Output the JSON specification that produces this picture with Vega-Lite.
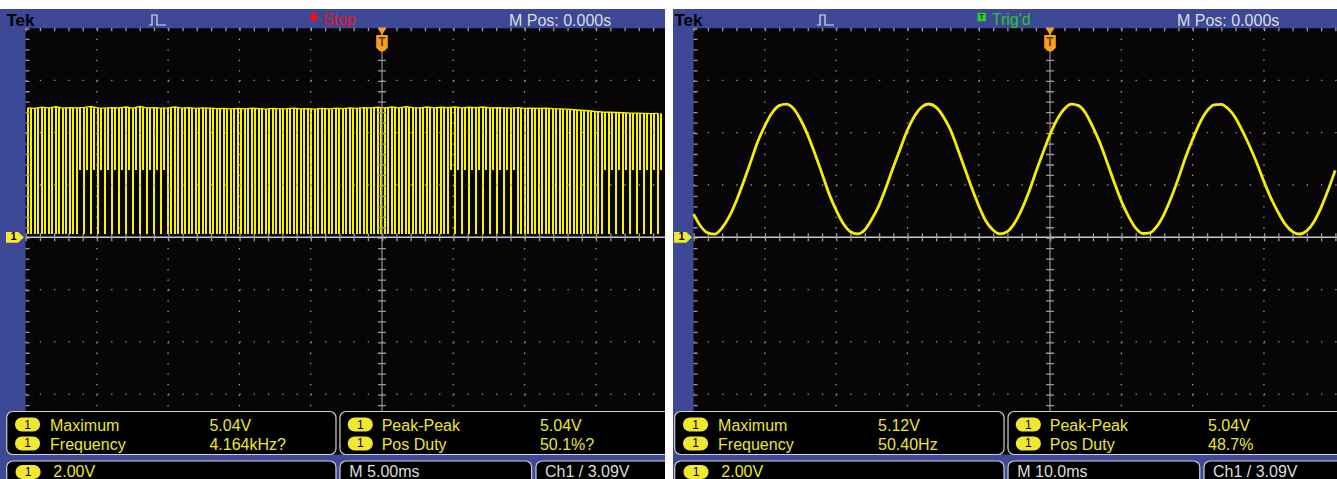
{
"$schema": "https://vega.github.io/schema/vega-lite/v6.json",
"background": "#ffffff",
"padding": {"left": 0, "top": 9, "right": 0, "bottom": 0},
"spacing": 8,
"bounds": "flush",
"config": {"view": {"stroke": null}, "font": "Liberation Sans"},
"datasets": {
"pulsesA": [
{"t":-24.826,"v":4.95},{"t":-24.335,"v":4.93},{"t":-23.844,"v":4.97},{"t":-23.353,"v":4.95},{"t":-22.862,"v":4.99},{"t":-22.371,"v":4.94},{"t":-21.88,"v":4.96},{"t":-21.389,"v":4.95},{"t":-20.898,"v":4.97},{"t":-20.407,"v":5.0},
{"t":-19.917,"v":4.95},{"t":-19.426,"v":4.94},{"t":-18.935,"v":4.96},{"t":-18.444,"v":4.95},{"t":-17.953,"v":4.98},{"t":-17.462,"v":4.94},{"t":-16.971,"v":5.0},{"t":-16.48,"v":4.95},{"t":-15.989,"v":4.96},{"t":-15.498,"v":4.94},
{"t":-15.007,"v":4.95},{"t":-14.516,"v":4.98},{"t":-14.025,"v":4.94},{"t":-13.534,"v":4.96},{"t":-13.043,"v":4.93},{"t":-12.552,"v":4.95},{"t":-12.061,"v":4.94},{"t":-11.57,"v":4.92},{"t":-11.079,"v":4.93},{"t":-10.588,"v":4.91},
{"t":-10.098,"v":4.93},{"t":-9.607,"v":4.91},{"t":-9.116,"v":4.94},{"t":-8.625,"v":4.92},{"t":-8.134,"v":4.9},{"t":-7.643,"v":4.93},{"t":-7.152,"v":4.91},{"t":-6.661,"v":4.92},{"t":-6.17,"v":4.94},{"t":-5.679,"v":4.91},
{"t":-5.188,"v":4.92},{"t":-4.697,"v":4.9},{"t":-4.206,"v":4.93},{"t":-3.715,"v":4.91},{"t":-3.224,"v":4.94},{"t":-2.733,"v":4.92},{"t":-2.242,"v":4.95},{"t":-1.751,"v":4.93},{"t":-1.26,"v":4.96},{"t":-0.769,"v":4.95},
{"t":-0.279,"v":4.97},{"t":0.212,"v":4.95},{"t":0.703,"v":4.98},{"t":1.194,"v":4.95},{"t":1.685,"v":4.99},{"t":2.176,"v":4.96},{"t":2.667,"v":4.95},{"t":3.158,"v":4.98},{"t":3.649,"v":4.95},{"t":4.14,"v":4.97},
{"t":4.631,"v":4.96},{"t":5.122,"v":4.98},{"t":5.613,"v":4.95},{"t":6.104,"v":4.97},{"t":6.595,"v":4.96},{"t":7.086,"v":4.98},{"t":7.577,"v":4.95},{"t":8.068,"v":4.96},{"t":8.559,"v":4.95},{"t":9.05,"v":4.94},
{"t":9.541,"v":4.96},{"t":10.032,"v":4.93},{"t":10.523,"v":4.94},{"t":11.014,"v":4.93},{"t":11.505,"v":4.94},{"t":11.996,"v":4.92},{"t":12.487,"v":4.91},{"t":12.978,"v":4.9},{"t":13.469,"v":4.88},{"t":13.96,"v":4.86},
{"t":14.45,"v":4.84},{"t":14.941,"v":4.81},{"t":15.432,"v":4.79},{"t":15.923,"v":4.78},{"t":16.414,"v":4.77},{"t":16.905,"v":4.76},{"t":17.396,"v":4.75},{"t":17.887,"v":4.75},{"t":18.378,"v":4.74},{"t":18.869,"v":4.73},{"t":19.36,"v":4.74}
],
"pulsesB": [
{"t":-24.616,"v":4.94},{"t":-24.125,"v":4.96},{"t":-23.634,"v":4.94},{"t":-23.143,"v":4.97},{"t":-22.652,"v":4.95},{"t":-22.161,"v":4.96},{"t":-21.67,"v":4.94},
{"t":-14.797,"v":4.94},{"t":-14.306,"v":4.96},{"t":-13.815,"v":4.95},{"t":-13.324,"v":4.94},{"t":-12.833,"v":4.95},{"t":-12.342,"v":4.93},{"t":-11.851,"v":4.95},{"t":-11.36,"v":4.93},{"t":-10.869,"v":4.92},{"t":-10.378,"v":4.94},
{"t":-9.888,"v":4.92},{"t":-9.397,"v":4.93},{"t":-8.906,"v":4.91},{"t":-8.415,"v":4.93},{"t":-7.924,"v":4.92},{"t":-7.433,"v":4.9},{"t":-6.942,"v":4.93},{"t":-6.451,"v":4.91},{"t":-5.96,"v":4.92},{"t":-5.469,"v":4.93},
{"t":-4.978,"v":4.91},{"t":-4.487,"v":4.93},{"t":-3.996,"v":4.92},{"t":-3.505,"v":4.9},{"t":-3.014,"v":4.93},{"t":-2.523,"v":4.94},{"t":-2.032,"v":4.92},{"t":-1.541,"v":4.95},{"t":-1.05,"v":4.94},{"t":-0.559,"v":4.96},
{"t":-0.069,"v":4.95},{"t":0.422,"v":4.97},{"t":0.913,"v":4.96},{"t":1.404,"v":4.95},{"t":1.895,"v":4.97},{"t":2.386,"v":4.95},{"t":2.877,"v":4.97},{"t":3.368,"v":4.96},{"t":3.859,"v":4.96},{"t":4.35,"v":4.95},
{"t":9.751,"v":4.94},{"t":10.242,"v":4.95},{"t":10.733,"v":4.93},{"t":11.224,"v":4.94},{"t":11.715,"v":4.92},{"t":12.206,"v":4.93},{"t":12.697,"v":4.9},{"t":13.188,"v":4.89},{"t":13.679,"v":4.87},{"t":14.17,"v":4.85},
{"t":14.66,"v":4.82},{"t":15.151,"v":4.8}
],
"halfB": [
{"t":-21.179,"v":4.96},{"t":-20.688,"v":4.95},{"t":-20.197,"v":4.97},{"t":-19.707,"v":4.94},{"t":-19.216,"v":4.95},{"t":-18.725,"v":4.97},{"t":-18.234,"v":4.94},{"t":-17.743,"v":4.96},{"t":-17.252,"v":4.95},{"t":-16.761,"v":4.97},
{"t":-16.27,"v":4.94},{"t":-15.779,"v":4.95},{"t":-15.288,"v":4.96},
{"t":4.841,"v":4.97},{"t":5.332,"v":4.95},{"t":5.823,"v":4.96},{"t":6.314,"v":4.95},{"t":6.805,"v":4.97},{"t":7.296,"v":4.96},{"t":7.787,"v":4.95},{"t":8.278,"v":4.97},{"t":8.769,"v":4.94},{"t":9.26,"v":4.95},
{"t":15.642,"v":4.79},{"t":16.133,"v":4.77},{"t":16.624,"v":4.76},{"t":17.115,"v":4.76},{"t":17.606,"v":4.75},{"t":18.097,"v":4.74},{"t":18.588,"v":4.74},{"t":19.079,"v":4.73},{"t":19.57,"v":4.74}
],
"sineR": [
{"t":-50,"v":0.885},{"t":-49,"v":0.422},{"t":-48,"v":0.168},{"t":-47,"v":0.12},{"t":-46,"v":0.36},{"t":-45,"v":0.788},{"t":-44,"v":1.39},{"t":-43,"v":2.109},{"t":-42,"v":2.875},{"t":-41,"v":3.65},
{"t":-40,"v":4.263},{"t":-39,"v":4.751},{"t":-38,"v":5.035},{"t":-37,"v":5.089},{"t":-36,"v":4.93},{"t":-35,"v":4.505},{"t":-34,"v":3.923},{"t":-33,"v":3.217},{"t":-32,"v":2.452},{"t":-31,"v":1.67},
{"t":-30,"v":1.041},{"t":-29,"v":0.528},{"t":-28,"v":0.214},{"t":-27,"v":0.128},{"t":-26,"v":0.279},{"t":-25,"v":0.69},{"t":-24,"v":1.213},{"t":-23,"v":1.907},{"t":-22,"v":2.667},{"t":-21,"v":3.39},
{"t":-20,"v":4.101},{"t":-19,"v":4.638},{"t":-18,"v":4.981},{"t":-17,"v":5.098},{"t":-16,"v":4.978},{"t":-15,"v":4.633},{"t":-14,"v":4.13},{"t":-13,"v":3.416},{"t":-12,"v":2.66},{"t":-11,"v":1.9},
{"t":-10,"v":1.207},{"t":-9,"v":0.62},{"t":-8,"v":0.277},{"t":-7,"v":0.128},{"t":-6,"v":0.216},{"t":-5,"v":0.532},{"t":-4,"v":1.047},{"t":-3,"v":1.71},{"t":-2,"v":2.49},{"t":-1,"v":3.224},
{"t":0,"v":3.929},{"t":1,"v":4.51},{"t":2,"v":4.909},{"t":3,"v":5.09},{"t":4,"v":5.034},{"t":5,"v":4.747},{"t":6,"v":4.22},{"t":7,"v":3.61},{"t":8,"v":2.868},{"t":9,"v":2.102},
{"t":10,"v":1.384},{"t":11,"v":0.81},{"t":12,"v":0.357},{"t":13,"v":0.145},{"t":14,"v":0.169},{"t":15,"v":0.425},{"t":16,"v":0.89},{"t":17,"v":1.519},{"t":18,"v":2.252},{"t":19,"v":3.05},
{"t":20,"v":3.748},{"t":21,"v":4.369},{"t":22,"v":4.822},{"t":23,"v":5.064},{"t":24,"v":5.083},{"t":25,"v":4.915},{"t":26,"v":4.573},{"t":27,"v":4.06},{"t":28,"v":3.482},{"t":29,"v":2.84},
{"t":30,"v":2.133},{"t":31,"v":1.491},{"t":32,"v":0.95},{"t":33,"v":0.494},{"t":34,"v":0.22},{"t":35,"v":0.126},{"t":36,"v":0.245},{"t":37,"v":0.588},{"t":38,"v":1.126},{"t":39,"v":1.804},{"t":40,"v":2.56}
]
},
"hconcat": [
{
"width": 665, "height": 470,
"view": {"fill": "#3d4897", "stroke": null},
"encoding": {
"x": {"field": "t", "type": "quantitative", "scale": {"domain": [-26.79, 19.85], "nice": false, "zero": false}, "axis": null},
"y": {"field": "v", "type": "quantitative", "scale": {"domain": [-9.243, 8.73], "nice": false, "zero": false}, "axis": null}
},
"layer": [
{"data": {"values": [{"t": -25.0, "t2": 25, "v": 7.99, "v2": -8.306}]}, "mark": {"type": "rect", "fill": "#070505", "clip": true}, "encoding": {"x2": {"field": "t2"}, "y2": {"field": "v2"}}},
{"data": {"name": "pulsesA"}, "mark": {"type": "rule", "stroke": "#f5f100", "strokeWidth": 2, "clip": true}, "encoding": {"y2": {"datum": 0.126}}},
{"data": {"name": "pulsesB"}, "mark": {"type": "rule", "stroke": "#f5f100", "strokeWidth": 2, "clip": true}, "encoding": {"y2": {"datum": 0.126}}},
{"data": {"name": "halfB"}, "mark": {"type": "rule", "stroke": "#f5f100", "strokeWidth": 2, "clip": true}, "encoding": {"y2": {"datum": 2.574}}},
{"data": {"name": "pulsesA"}, "mark": {"type": "line", "stroke": "#f5f100", "strokeWidth": 1.4, "clip": true}, "encoding": {}},
{"data": {"values": [{"t":-20,"v":7.99,"v2":-8.306},{"t":-15,"v":7.99,"v2":-8.306},{"t":-10,"v":7.99,"v2":-8.306},{"t":-5,"v":7.99,"v2":-8.306},{"t":5,"v":7.99,"v2":-8.306},{"t":10,"v":7.99,"v2":-8.306},{"t":15,"v":7.99,"v2":-8.306}]}, "mark": {"type": "rule", "stroke": "#9c9c9c", "strokeWidth": 1.3, "strokeDash": [1.3, 9.16], "clip": true}, "encoding": {"y2": {"field": "v2"}}},
{"data": {"values": [{"t":-25,"t2":25,"v":6},{"t":-25,"t2":25,"v":4},{"t":-25,"t2":25,"v":2},{"t":-25,"t2":25,"v":-2},{"t":-25,"t2":25,"v":-4},{"t":-25,"t2":25,"v":-6},{"t":-25,"t2":25,"v":-8}]}, "mark": {"type": "rule", "stroke": "#9c9c9c", "strokeWidth": 1.3, "strokeDash": [1.3, 12.96], "clip": true}, "encoding": {"x2": {"field": "t2"}}},
{"data": {"values": [{"t":-24.86,"v":7.99,"v2":-8.306}]}, "mark": {"type": "rule", "stroke": "#9c9c9c", "strokeWidth": 4, "strokeDash": [1.3, 9.16], "clip": true}, "encoding": {"y2": {"field": "v2"}}},
{"data": {"values": [{"t":-25,"t2":25,"v":7.943}]}, "mark": {"type": "rule", "stroke": "#9c9c9c", "strokeWidth": 3.5, "strokeDash": [1.3, 12.96], "clip": true}, "encoding": {"x2": {"field": "t2"}}},
{"data": {"values": [{"t":0,"v":7.99,"v2":-8.306}]}, "mark": {"type": "rule", "stroke": "#8f8f8f", "strokeWidth": 1.2, "clip": true}, "encoding": {"y2": {"field": "v2"}}},
{"data": {"values": [{"t":0,"v":7.99,"v2":-8.306}]}, "mark": {"type": "rule", "stroke": "#9c9c9c", "strokeWidth": 8, "strokeDash": [1.3, 9.16], "clip": true}, "encoding": {"y2": {"field": "v2"}}},
{"data": {"values": [{"t":-25,"t2":25,"v":0}]}, "mark": {"type": "rule", "stroke": "#c8c8c8", "strokeWidth": 1.4, "clip": true}, "encoding": {"x2": {"field": "t2"}}},
{"data": {"values": [{"t":-25,"t2":25,"v":0}]}, "mark": {"type": "rule", "stroke": "#9c9c9c", "strokeWidth": 8, "strokeDash": [1.3, 12.96], "clip": true}, "encoding": {"x2": {"field": "t2"}}},
{"data": {"values": [{"t":0,"v":7.874}]}, "mark": {"type": "point", "shape": "triangle-down", "filled": true, "color": "#f7a01d", "size": 80, "opacity": 1, "clip": true}, "encoding": {}},
{"data": {"values": [{"t":0,"v":7.403}]}, "mark": {"type": "point", "shape": "M-0.67,-1L0.67,-1L0.67,0.5L0,1L-0.67,0.5Z", "filled": true, "color": "#f7a01d", "size": 299, "opacity": 1, "clip": true}, "encoding": {}},
{"data": {"values": [{"t":0,"v":7.45,"s":"T"}]}, "mark": {"type": "text", "fontSize": 12, "fontWeight": "bold", "color": "#6a3b00", "align": "center", "baseline": "middle", "clip": true}, "encoding": {"text": {"field": "s"}}},
{"data": {"values": [{"t":-25.74,"v":0}]}, "mark": {"type": "point", "shape": "M-1,-0.6L0.35,-0.6L1,0L0.35,0.6L-1,0.6Z", "filled": true, "color": "#f2ea30", "size": 324, "opacity": 1, "clip": true}, "encoding": {}},
{"data": {"values": [{"t":-25.84,"v":0,"s":"1"}]}, "mark": {"type": "text", "fontSize": 11, "fontWeight": "bold", "color": "#000000", "align": "center", "baseline": "middle", "clip": true}, "encoding": {"text": {"field": "s"}}},
{"data": {"values": [{"t":-26.32,"t2":-3.226,"v":-6.662,"v2":-8.306},{"t":-2.945,"t2":25,"v":-6.662,"v2":-8.306},{"t":-26.32,"t2":-3.226,"v":-8.555,"v2":-9.9},{"t":-2.945,"t2":10.498,"v":-8.555,"v2":-9.9},{"t":10.8,"t2":25,"v":-8.555,"v2":-9.9}]}, "mark": {"type": "rect", "fill": "#000000", "stroke": "#d0d0d0", "strokeWidth": 1.2, "cornerRadius": 6, "clip": true}, "encoding": {"x2": {"field": "t2"}, "y2": {"field": "v2"}}},
{"data": {"values": [{"t":-24.86,"v":-7.159},{"t":-24.86,"v":-7.885},{"t":-1.522,"v":-7.159},{"t":-1.522,"v":-7.885},{"t":-24.82,"v":-8.975}]}, "mark": {"type": "point", "shape": "M-0.44,-0.56L0.44,-0.56A0.56,0.56,0,0,1,0.44,0.56L-0.44,0.56A0.56,0.56,0,0,1,-0.44,-0.56Z", "filled": true, "color": "#f0e82e", "size": 625, "opacity": 1, "clip": true}, "encoding": {}},
{"data": {"values": [{"t":-24.86,"v":-7.159,"s":"1"},{"t":-24.86,"v":-7.885,"s":"1"},{"t":-1.522,"v":-7.159,"s":"1"},{"t":-1.522,"v":-7.885,"s":"1"},{"t":-24.82,"v":-8.975,"s":"1"}]}, "mark": {"type": "text", "fontSize": 12, "color": "#000000", "align": "center", "baseline": "middle", "clip": true}, "encoding": {"text": {"field": "s"}}},
{"data": {"values": [
{"t":-23.28,"v":-7.396,"s":"Maximum","role":"reading"},{"t":-12.1,"v":-7.396,"s":"5.04V","role":"reading"},
{"t":-23.28,"v":-8.134,"s":"Frequency","role":"reading"},{"t":-12.1,"v":-8.134,"s":"4.164kHz?","role":"reading"},
{"t":-0.02,"v":-7.396,"s":"Peak-Peak","role":"reading"},{"t":11.08,"v":-7.396,"s":"5.04V","role":"reading"},
{"t":-0.02,"v":-8.134,"s":"Pos Duty","role":"reading"},{"t":11.08,"v":-8.134,"s":"50.1%?","role":"reading"},
{"t":-23.05,"v":-9.185,"s":"2.00V","role":"reading"},
{"t":8.906,"v":8.099,"s":"M Pos: 0.000s","role":"setting"},{"t":-2.293,"v":-9.185,"s":"M 5.00ms","role":"setting"},{"t":11.43,"v":-9.185,"s":"Ch1 / 3.09V","role":"setting"},
{"t":-4.15,"v":8.119,"s":"Stop","role":"stop"}
]}, "mark": {"type": "text", "fontSize": 16, "align": "left", "baseline": "alphabetic", "clip": true}, "encoding": {"text": {"field": "s"}, "color": {"field": "role", "type": "nominal", "scale": {"domain": ["reading", "setting", "stop", "trig"], "range": ["#ebe72c", "#dcdcdc", "#e8141c", "#2bc52b"]}, "legend": null}}},
{"data": {"values": [{"t":-26.34,"v":8.099,"s":"Tek"}]}, "mark": {"type": "text", "fontSize": 17, "fontWeight": "bold", "color": "#000000", "align": "left", "baseline": "alphabetic", "clip": true}, "encoding": {"text": {"field": "s"}}},
{"data": {"values": [{"t":-4.79,"v":8.424}]}, "mark": {"type": "point", "shape": "circle", "filled": true, "color": "#e8141c", "size": 70, "opacity": 1, "clip": true}, "encoding": {}},
{"data": {"values": [{"t":-16.34,"v":8.119,"o":1},{"t":-16.13,"v":8.119,"o":2},{"t":-16.13,"v":8.501,"o":3},{"t":-15.78,"v":8.501,"o":4},{"t":-15.78,"v":8.119,"o":5},{"t":-15.15,"v":8.119,"o":6}]}, "mark": {"type": "line", "stroke": "#e0e0e0", "strokeWidth": 1.2, "clip": true}, "encoding": {"order": {"field": "o"}}}
]
},
{
"width": 664, "height": 470,
"view": {"fill": "#3d4897", "stroke": null},
"encoding": {
"x": {"field": "t", "type": "quantitative", "scale": {"domain": [-52.88, 40.25], "nice": false, "zero": false}, "axis": null},
"y": {"field": "v", "type": "quantitative", "scale": {"domain": [-9.243, 8.73], "nice": false, "zero": false}, "axis": null}
},
"layer": [
{"data": {"values": [{"t": -50.0, "t2": 45, "v": 7.99, "v2": -8.306}]}, "mark": {"type": "rect", "fill": "#070505", "clip": true}, "encoding": {"x2": {"field": "t2"}, "y2": {"field": "v2"}}},
{"data": {"values": [{"t":-40,"v":7.99,"v2":-8.306},{"t":-30,"v":7.99,"v2":-8.306},{"t":-20,"v":7.99,"v2":-8.306},{"t":-10,"v":7.99,"v2":-8.306},{"t":10,"v":7.99,"v2":-8.306},{"t":20,"v":7.99,"v2":-8.306},{"t":30,"v":7.99,"v2":-8.306}]}, "mark": {"type": "rule", "stroke": "#9c9c9c", "strokeWidth": 1.3, "strokeDash": [1.3, 9.16], "clip": true}, "encoding": {"y2": {"field": "v2"}}},
{"data": {"values": [{"t":-50,"t2":45,"v":6},{"t":-50,"t2":45,"v":4},{"t":-50,"t2":45,"v":2},{"t":-50,"t2":45,"v":-2},{"t":-50,"t2":45,"v":-4},{"t":-50,"t2":45,"v":-6},{"t":-50,"t2":45,"v":-8}]}, "mark": {"type": "rule", "stroke": "#9c9c9c", "strokeWidth": 1.3, "strokeDash": [1.3, 12.96], "clip": true}, "encoding": {"x2": {"field": "t2"}}},
{"data": {"values": [{"t":-49.72,"v":7.99,"v2":-8.306}]}, "mark": {"type": "rule", "stroke": "#9c9c9c", "strokeWidth": 4, "strokeDash": [1.3, 9.16], "clip": true}, "encoding": {"y2": {"field": "v2"}}},
{"data": {"values": [{"t":-50,"t2":45,"v":7.943}]}, "mark": {"type": "rule", "stroke": "#9c9c9c", "strokeWidth": 3.5, "strokeDash": [1.3, 12.96], "clip": true}, "encoding": {"x2": {"field": "t2"}}},
{"data": {"values": [{"t":0,"v":7.99,"v2":-8.306}]}, "mark": {"type": "rule", "stroke": "#8f8f8f", "strokeWidth": 1.2, "clip": true}, "encoding": {"y2": {"field": "v2"}}},
{"data": {"values": [{"t":0,"v":7.99,"v2":-8.306}]}, "mark": {"type": "rule", "stroke": "#9c9c9c", "strokeWidth": 8, "strokeDash": [1.3, 9.16], "clip": true}, "encoding": {"y2": {"field": "v2"}}},
{"data": {"values": [{"t":-50,"t2":45,"v":0}]}, "mark": {"type": "rule", "stroke": "#c8c8c8", "strokeWidth": 1.4, "clip": true}, "encoding": {"x2": {"field": "t2"}}},
{"data": {"values": [{"t":-50,"t2":45,"v":0}]}, "mark": {"type": "rule", "stroke": "#9c9c9c", "strokeWidth": 8, "strokeDash": [1.3, 12.96], "clip": true}, "encoding": {"x2": {"field": "t2"}}},
{"data": {"name": "sineR"}, "mark": {"type": "line", "stroke": "#f3ef00", "strokeWidth": 2.8, "interpolate": "monotone", "clip": true}, "encoding": {}},
{"data": {"values": [{"t":0,"v":7.874}]}, "mark": {"type": "point", "shape": "triangle-down", "filled": true, "color": "#f7a01d", "size": 80, "opacity": 1, "clip": true}, "encoding": {}},
{"data": {"values": [{"t":0,"v":7.403}]}, "mark": {"type": "point", "shape": "M-0.67,-1L0.67,-1L0.67,0.5L0,1L-0.67,0.5Z", "filled": true, "color": "#f7a01d", "size": 299, "opacity": 1, "clip": true}, "encoding": {}},
{"data": {"values": [{"t":0,"v":7.45,"s":"T"}]}, "mark": {"type": "text", "fontSize": 12, "fontWeight": "bold", "color": "#6a3b00", "align": "center", "baseline": "middle", "clip": true}, "encoding": {"text": {"field": "s"}}},
{"data": {"values": [{"t":-51.47,"v":0}]}, "mark": {"type": "point", "shape": "M-1,-0.6L0.35,-0.6L1,0L0.35,0.6L-1,0.6Z", "filled": true, "color": "#f2ea30", "size": 324, "opacity": 1, "clip": true}, "encoding": {}},
{"data": {"values": [{"t":-51.68,"v":0,"s":"1"}]}, "mark": {"type": "text", "fontSize": 11, "fontWeight": "bold", "color": "#000000", "align": "center", "baseline": "middle", "clip": true}, "encoding": {"text": {"field": "s"}}},
{"data": {"values": [{"t":-52.64,"t2":-6.45,"v":-6.662,"v2":-8.306},{"t":-5.89,"t2":45,"v":-6.662,"v2":-8.306},{"t":-52.64,"t2":-6.45,"v":-8.555,"v2":-9.9},{"t":-5.89,"t2":21.0,"v":-8.555,"v2":-9.9},{"t":21.6,"t2":45,"v":-8.555,"v2":-9.9}]}, "mark": {"type": "rect", "fill": "#000000", "stroke": "#d0d0d0", "strokeWidth": 1.2, "cornerRadius": 6, "clip": true}, "encoding": {"x2": {"field": "t2"}, "y2": {"field": "v2"}}},
{"data": {"values": [{"t":-49.72,"v":-7.159},{"t":-49.72,"v":-7.885},{"t":-3.04,"v":-7.159},{"t":-3.04,"v":-7.885},{"t":-49.65,"v":-8.975}]}, "mark": {"type": "point", "shape": "M-0.44,-0.56L0.44,-0.56A0.56,0.56,0,0,1,0.44,0.56L-0.44,0.56A0.56,0.56,0,0,1,-0.44,-0.56Z", "filled": true, "color": "#f0e82e", "size": 625, "opacity": 1, "clip": true}, "encoding": {}},
{"data": {"values": [{"t":-49.72,"v":-7.159,"s":"1"},{"t":-49.72,"v":-7.885,"s":"1"},{"t":-3.04,"v":-7.159,"s":"1"},{"t":-3.04,"v":-7.885,"s":"1"},{"t":-49.65,"v":-8.975,"s":"1"}]}, "mark": {"type": "text", "fontSize": 12, "color": "#000000", "align": "center", "baseline": "middle", "clip": true}, "encoding": {"text": {"field": "s"}}},
{"data": {"values": [
{"t":-46.56,"v":-7.396,"s":"Maximum","role":"reading"},{"t":-24.12,"v":-7.396,"s":"5.12V","role":"reading"},
{"t":-46.56,"v":-8.134,"s":"Frequency","role":"reading"},{"t":-24.12,"v":-8.134,"s":"50.40Hz","role":"reading"},
{"t":-0.04,"v":-7.396,"s":"Peak-Peak","role":"reading"},{"t":22.16,"v":-7.396,"s":"5.04V","role":"reading"},
{"t":-0.04,"v":-8.134,"s":"Pos Duty","role":"reading"},{"t":22.16,"v":-8.134,"s":"48.7%","role":"reading"},
{"t":-46.1,"v":-9.185,"s":"2.00V","role":"reading"},
{"t":17.81,"v":8.099,"s":"M Pos: 0.000s","role":"setting"},{"t":-4.59,"v":-9.185,"s":"M 10.0ms","role":"setting"},{"t":22.86,"v":-9.185,"s":"Ch1 / 3.09V","role":"setting"},
{"t":-8.18,"v":8.119,"s":"Trig'd","role":"trig"}
]}, "mark": {"type": "text", "fontSize": 16, "align": "left", "baseline": "alphabetic", "clip": true}, "encoding": {"text": {"field": "s"}, "color": {"field": "role", "type": "nominal", "scale": {"domain": ["reading", "setting", "stop", "trig"], "range": ["#ebe72c", "#dcdcdc", "#e8141c", "#2bc52b"]}, "legend": null}}},
{"data": {"values": [{"t":-52.68,"v":8.099,"s":"Tek"}]}, "mark": {"type": "text", "fontSize": 17, "fontWeight": "bold", "color": "#000000", "align": "left", "baseline": "alphabetic", "clip": true}, "encoding": {"text": {"field": "s"}}},
{"data": {"values": [{"t":-9.58,"v":8.424}]}, "mark": {"type": "point", "shape": "square", "filled": true, "color": "#2bd12b", "size": 70, "opacity": 1, "clip": true}, "encoding": {}},
{"data": {"values": [{"t":-9.58,"v":8.43,"s":"T"}]}, "mark": {"type": "text", "fontSize": 7, "fontWeight": "bold", "color": "#063a06", "align": "center", "baseline": "middle", "clip": true}, "encoding": {"text": {"field": "s"}}},
{"data": {"values": [{"t":-32.68,"v":8.119,"o":1},{"t":-32.26,"v":8.119,"o":2},{"t":-32.26,"v":8.501,"o":3},{"t":-31.56,"v":8.501,"o":4},{"t":-31.56,"v":8.119,"o":5},{"t":-30.3,"v":8.119,"o":6}]}, "mark": {"type": "line", "stroke": "#e0e0e0", "strokeWidth": 1.2, "clip": true}, "encoding": {"order": {"field": "o"}}}
]
}
]
}
